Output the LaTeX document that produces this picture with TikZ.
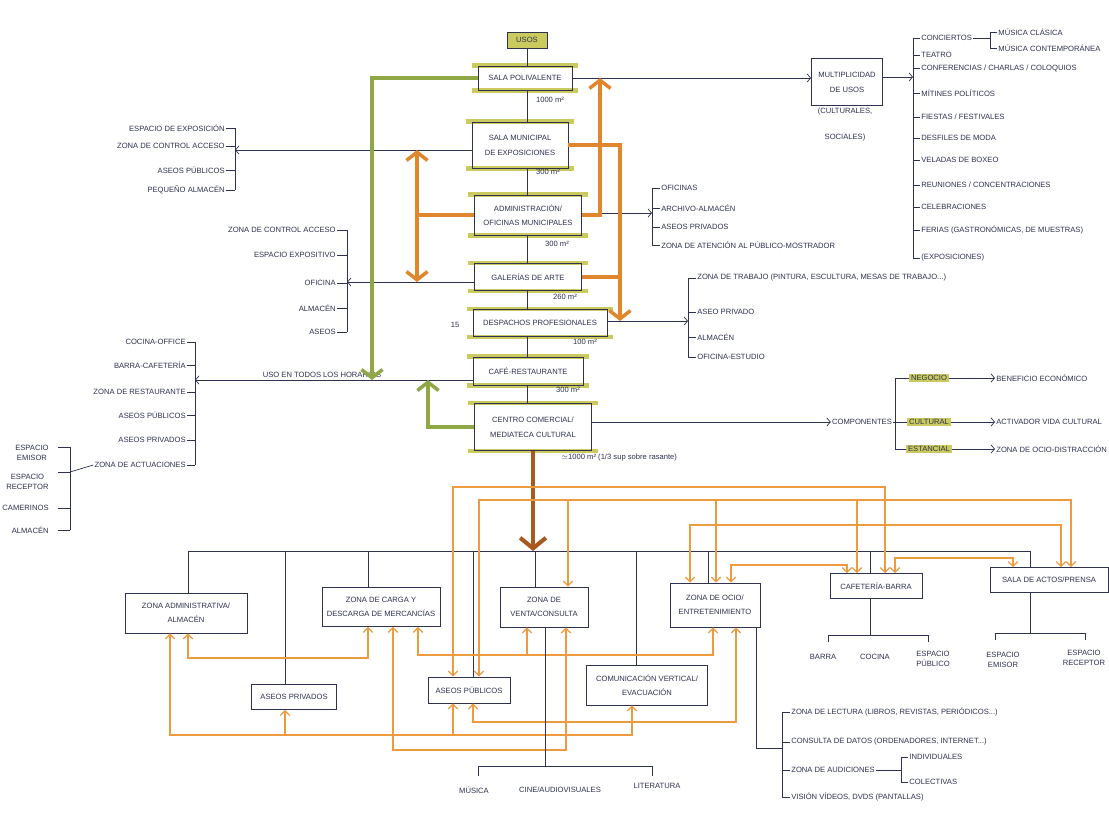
\documentclass[tikz,border=0pt]{standalone}
\usepackage{fontspec}
\setmainfont{Liberation Sans}
\usepackage{tikz}
\usetikzlibrary{arrows.meta,backgrounds,positioning}
\definecolor{ink}{HTML}{2E3150}
\definecolor{naranja}{HTML}{EE9A3E}
\definecolor{naranjaf}{HTML}{E0862C}
\definecolor{marron}{HTML}{A85A1E}
\definecolor{verde}{HTML}{8FA845}
\definecolor{resalte}{HTML}{CBCA5E}
\newcommand\hand{\fontsize{6.5}{8}\selectfont}
\tikzstyle{caja} = [rectangle, draw=ink, line width=0.7pt, text=ink, align=center, font=\hand, inner sep=1pt]
\tikzstyle{txt} = [font=\hand, inner sep=1pt, text=ink, align=center]
\tikzstyle{ln} = [draw=ink, line width=0.6pt]
\tikzstyle{flecha} = [ln, -{Straight Barb[length=3pt,width=7pt]}]
\tikzstyle{hilo} = [draw=naranja, line width=1pt, {Straight Barb[length=4pt,width=8pt]}-{Straight Barb[length=4pt,width=8pt]}]
\tikzstyle{hilo1} = [draw=naranja, line width=1pt, -{Straight Barb[length=4pt,width=8pt]}]
\tikzstyle{gruesa} = [draw=naranjaf, line width=3pt]
\tikzstyle{puntag} = [{Straight Barb[length=7pt,width=18pt]}-{Straight Barb[length=7pt,width=18pt]}]
\tikzstyle{punta} = [-{Straight Barb[length=7pt,width=18pt]}]
\tikzstyle{verdef} = [draw=verde, line width=3pt, -{Straight Barb[length=7pt,width=18pt]}]
\tikzstyle{bajada} = [draw=marron, line width=3.5pt, -{Straight Barb[length=9pt,width=22pt]}]
\tikzstyle{banda} = [draw=resalte, line width=4pt]
\tikzstyle{marca} = [fill=resalte, font=\hand, text=ink, inner sep=1.5pt]

\begin{document}
\begin{tikzpicture}[x=0.03cm, y=-0.03cm]
        \useasboundingbox (0,0) rectangle (1109,814);

        % columna de usos
        \node[caja, fill=resalte, minimum width=1.2cm, minimum height=0.48cm] (usos) at (527,40) {USOS};
        \node[caja, minimum width=2.82cm, minimum height=0.72cm] (sala) at (525,78) {SALA POLIVALENTE};
        \node[caja, minimum width=2.88cm, minimum height=1.38cm] (expo) at (520,145) {SALA MUNICIPAL\\[5pt]DE EXPOSICIONES};
        \node[caja, minimum width=3.21cm, minimum height=1.2cm] (admin) at (528,215) {ADMINISTRACIÓN/\\[4pt]OFICINAS MUNICIPALES};
        \node[caja, minimum width=3.21cm, minimum height=0.81cm] (gal) at (528,277) {GALERÍAS DE ARTE};
        \node[caja, minimum width=4.02cm, minimum height=0.81cm] (desp) at (540,323) {DESPACHOS PROFESIONALES};
        \node[caja, minimum width=3.3cm, minimum height=0.84cm] (cafe) at (528,371) {CAFÉ-RESTAURANTE};
        \node[caja, minimum width=3.51cm, minimum height=1.41cm] (centro) at (533,427) {CENTRO COMERCIAL/\\[5pt]MEDIATECA CULTURAL};
        \foreach \a/\b in {usos/sala, sala/expo, expo/admin, admin/gal, gal/desp, desp/cafe, cafe/centro}
            \draw[ln] (527,0 |- \a.south) -- (527,0 |- \b.north);

        \node[txt] (sup1) at (550,100) {1000 m²};
        \node[txt] (sup2) at (548,172) {300 m²};
        \node[txt] (sup3) at (557,244) {300 m²};
        \node[txt] (sup4) at (565,297) {260 m²};
        \node[txt] (sup5) at (585,342) {100 m²};
        \node[txt] (sup6) at (568,390) {300 m²};
        \node[txt, anchor=west] (sup7) at (560,458) {$\simeq$1000 m² (1/3 sup sobre rasante)};
        \node[txt] (quince) at (455,325) {15};

        % multiplicidad de usos
        \node[caja, minimum width=2.13cm, minimum height=1.41cm] (mult) at (847,82) {MULTIPLICIDAD\\[5pt]DE USOS};
        \node[txt] (cult) at (845,112) {(CULTURALES,};
        \node[txt] (soc) at (845,138) {SOCIALES)};
        \draw[flecha] (sala.east) -- (sala.east -| mult.west);
        \coordinate (brG) at (913,77);
        \draw[flecha] (mult.east |- brG) -- (brG);
        \foreach \y/\t [count=\i] in {38/CONCIERTOS, 55/TEATRO, 68/{CONFERENCIAS / CHARLAS / COLOQUIOS}, 93/MÍTINES POLÍTICOS,
                117/{FIESTAS / FESTIVALES}, 138/DESFILES DE MODA, 160/VELADAS DE BOXEO, 185/{REUNIONES / CONCENTRACIONES},
                207/CELEBRACIONES, 230/{FERIAS (GASTRONÓMICAS, DE MUESTRAS)}, 258/(EXPOSICIONES)}{
            \node[txt, anchor=west] (g\i) at (920,\y) {\t};
            \draw[ln] (913,\y) -- (g\i.west);
        }
        \draw[ln] (913,38) -- (913,258);
        \node[txt, anchor=west] (g1a) at (997,32) {MÚSICA CLÁSICA};
        \node[txt, anchor=west] (g1b) at (997,48) {MÚSICA CONTEMPORÁNEA};
        \draw[ln] (g1.east) -- (990,38);
        \draw[ln] (g1a.west) -| (990,48) -- (g1b.west);

        % exposiciones
        \coordinate (brA) at (235,150);
        \draw[flecha] (expo.west |- brA) -- (brA);
        \foreach \y/\t [count=\i] in {128/ESPACIO DE EXPOSICIÓN, 146/ZONA DE CONTROL ACCESO, 170/ASEOS PÚBLICOS, 190/PEQUEÑO ALMACÉN}{
            \node[txt, anchor=east] (a\i) at (226,\y) {\t};
            \draw[ln] (a\i.east) -- (235,\y);
        }
        \draw[ln] (235,128) -- (235,190);

        % galerias
        \coordinate (brB) at (347,282);
        \draw[flecha] (gal.west |- brB) -- (brB);
        \foreach \y/\t [count=\i] in {230/ZONA DE CONTROL ACCESO, 255/ESPACIO EXPOSITIVO, 283/OFICINA, 308/ALMACÉN, 332/ASEOS}{
            \node[txt, anchor=east] (b\i) at (337,\y) {\t};
            \draw[ln] (b\i.east) -- (347,\y);
        }
        \draw[ln] (347,230) -- (347,332);

        % cafe
        \coordinate (brC) at (195,380);
        \draw[flecha] (cafe.west |- brC) -- (brC);
        \node[txt, anchor=south] (horas) at (322,379) {USO EN TODOS LOS HORARIOS};
        \foreach \y/\t [count=\i] in {342/COCINA-OFFICE, 365/BARRA-CAFETERÍA, 392/ZONA DE RESTAURANTE, 415/ASEOS PÚBLICOS, 440/ASEOS PRIVADOS, 465/ZONA DE ACTUACIONES}{
            \node[txt, anchor=east] (c\i) at (187,\y) {\t};
            \draw[ln] (c\i.east) -- (195,\y);
        }
        \draw[ln] (195,342) -- (195,465);
        \coordinate (brD) at (70,472);
        \draw[ln] (c6.west) -- (brD);
        \foreach \y/\c/\t [count=\i] in {447/453/ESPACIO\\EMISOR, 472/482/ESPACIO\\RECEPTOR, 508/508/CAMERINOS, 530/530/ALMACÉN}{
            \node[txt, anchor=east] (d\i) at (50,\c) {\t};
            \draw[ln] (58,\y) -- (70,\y);
        }
        \draw[ln] (70,447) -- (70,530);

        % administracion
        \coordinate (brE) at (652,213);
        \draw[flecha] (admin.east |- brE) -- (brE);
        \foreach \y/\t [count=\i] in {188/OFICINAS, 208/ARCHIVO-ALMACÉN, 227/ASEOS PRIVADOS, 245/ZONA DE ATENCIÓN AL PÚBLICO-MOSTRADOR}{
            \node[txt, anchor=west] (e\i) at (660,\y) {\t};
            \draw[ln] (652,\y) -- (e\i.west);
        }
        \draw[ln] (652,188) -- (652,245);

        % despachos
        \coordinate (brF) at (688,321);
        \draw[flecha] (desp.east |- brF) -- (brF);
        \foreach \y/\t [count=\i] in {278/{ZONA DE TRABAJO (PINTURA, ESCULTURA, MESAS DE TRABAJO...)}, 312/ASEO PRIVADO, 337/ALMACÉN, 357/OFICINA-ESTUDIO}{
            \node[txt, anchor=west] (f\i) at (696,\y) {\t};
            \draw[ln] (688,\y) -- (f\i.west);
        }
        \draw[ln] (688,278) -- (688,357);

        % componentes
        \node[txt] (comp) at (862,422) {COMPONENTES};
        \draw[flecha] (centro.east |- comp) -- (comp.west);
        \draw[ln] (comp.east) -- (895,422);
        \draw[ln] (895,378) -- (895,449);
        \foreach \y/\k/\t [count=\i] in {378/NEGOCIO/BENEFICIO ECONÓMICO, 422/CULTURAL/ACTIVADOR VIDA CULTURAL, 449/ESTANCIAL/ZONA DE OCIO-DISTRACCIÓN}{
            \node[marca] (h\i) at (929,\y) {\k};
            \node[txt, anchor=west] (r\i) at (995,\y) {\t};
            \draw[ln] (895,\y) -- (h\i.west);
            \draw[flecha] (h\i.east) -- (r\i.west);
        }

        % flechas verdes y naranjas
        \draw[verdef] (sala.west) -| (372,0 |- brC);
        \draw[verdef] (centro.west) -| (428,0 |- brC);
        \draw[gruesa] (admin.west) -- (417,0 |- admin.west);
        \draw[gruesa, puntag] (417,0 |- brA) -- (417,0 |- brB);
        \draw[gruesa, punta] (admin.east) -| (600,0 |- sala.east);
        \draw[gruesa, punta] (expo.east) -| (620,0 |- brF);
        \draw[gruesa] (gal.east) -- (620,0 |- gal.east);

        % zonas del centro comercial
        \node[caja, minimum width=3.66cm, minimum height=1.2cm] (adm) at (186,613) {ZONA ADMINISTRATIVA/\\[4pt]ALMACÉN};
        \node[caja, minimum width=3.54cm, minimum height=1.17cm] (carga) at (381,607) {ZONA DE CARGA Y\\[4pt]DESCARGA DE MERCANCÍAS};
        \node[caja, minimum width=2.64cm, minimum height=1.2cm] (venta) at (544,607) {ZONA DE\\[4pt]VENTA/CONSULTA};
        \node[caja, minimum width=2.7cm, minimum height=1.32cm] (ocio) at (715,605) {ZONA DE OCIO/\\[4pt]ENTRETENIMIENTO};
        \node[caja, minimum width=2.76cm, minimum height=0.75cm] (cafbar) at (876,586) {CAFETERÍA-BARRA};
        \node[caja, minimum width=3.54cm, minimum height=0.75cm] (actos) at (1049,580) {SALA DE ACTOS/PRENSA};
        \node[caja, minimum width=2.55cm, minimum height=0.75cm] (apriv) at (294,697) {ASEOS PRIVADOS};
        \node[caja, minimum width=2.46cm, minimum height=0.78cm] (apub) at (469,690) {ASEOS PÚBLICOS};
        \node[caja, minimum width=3.63cm, minimum height=1.2cm] (comv) at (647,685) {COMUNICACIÓN VERTICAL/\\[4pt]EVACUACIÓN};

        \coordinate (busL) at (188,551);
        \coordinate (busR) at (1030,551);
        \draw[ln] (busL) -- (busR);
        \foreach \x/\n in {188/adm, 285/apriv, 368/carga, 473/apub, 535/venta, 636/comv, 708/ocio, 870/cafbar, 1030/actos}
            \draw[ln] (\x,0 |- busL) -- (\x,0 |- \n.north);
        \draw[bajada] (centro.south) -- (centro.south |- busL);

        % relaciones entre zonas
        \draw[hilo] (453,0 |- apub.north) -- (453,487) -- (885,487) -- (885,0 |- cafbar.north);
        \draw[hilo] (479,0 |- apub.north) -- (479,500) -- (1071,500) -- (1071,0 |- actos.north);
        \draw[hilo1] (568,500) -- (568,0 |- venta.north);
        \draw[hilo1] (716,500) -- (716,0 |- ocio.north);
        \draw[hilo1] (857,500) -- (857,0 |- cafbar.north);
        \draw[hilo] (690,0 |- ocio.north) -- (690,525) -- (1061,525) -- (1061,0 |- actos.north);
        \draw[hilo] (731,0 |- ocio.north) -- (731,565) -- (847,565) -- (847,0 |- cafbar.north);
        \draw[hilo] (895,0 |- cafbar.north) -- (895,558) -- (1013,558) -- (1013,0 |- actos.north);
        \draw[hilo] (188,0 |- adm.south) -- (188,658) -- (368,658) -- (368,0 |- carga.south);
        \draw[hilo] (418,0 |- carga.south) -- (418,655) -- (713,655) -- (713,0 |- ocio.south);
        \draw[hilo1] (527,655) -- (527,0 |- venta.south);
        \draw[hilo] (473,0 |- apub.south) -- (473,722) -- (736,722) -- (736,0 |- ocio.south);
        \draw[hilo] (170,0 |- adm.south) -- (170,735) -- (632,735) -- (632,0 |- comv.south);
        \draw[hilo1] (285,735) -- (285,0 |- apriv.south);
        \draw[hilo1] (453,735) -- (453,0 |- apub.south);
        \draw[hilo] (393,0 |- carga.south) -- (393,750) -- (566,750) -- (566,0 |- venta.south);

        % subdivisiones
        \draw[ln] (870,0 |- cafbar.south) -- (870,635);
        \draw[ln] (828,642) -- (828,635) -- (928,635) -- (928,642);
        \node[txt] (barra) at (823,657) {BARRA};
        \node[txt] (cocina) at (875,657) {COCINA};
        \node[txt] (epub) at (933,659) {ESPACIO\\PÚBLICO};
        \draw[ln] (1030,0 |- actos.south) -- (1030,633);
        \draw[ln] (995,640) -- (995,633) -- (1085,633) -- (1085,640);
        \node[txt] (eemi) at (1003,660) {ESPACIO\\EMISOR};
        \node[txt] (erec) at (1084,658) {ESPACIO\\RECEPTOR};

        \draw[ln] (545,0 |- venta.south) -- (545,766);
        \draw[ln] (478,776) -- (478,766) -- (652,766) -- (652,776);
        \node[txt] (musica) at (474,790) {MÚSICA};
        \node[txt] (cine) at (560,790) {CINE/AUDIOVISUALES};
        \node[txt] (lit) at (657,786) {LITERATURA};

        \draw[ln] (756,0 |- ocio.south) -- (756,748) -- (782,748);
        \foreach \y/\t [count=\i] in {712/{ZONA DE LECTURA (LIBROS, REVISTAS, PERIÓDICOS...)}, 742/{CONSULTA DE DATOS (ORDENADORES, INTERNET...)}, 770/ZONA DE AUDICIONES, 797/{VISIÓN VÍDEOS, DVDS (PANTALLAS)}}{
            \node[txt, anchor=west] (k\i) at (790,\y) {\t};
            \draw[ln] (782,\y) -- (k\i.west);
        }
        \draw[ln] (782,712) -- (782,797);
        \node[txt, anchor=west] (k3a) at (908,757) {INDIVIDUALES};
        \node[txt, anchor=west] (k3b) at (908,782) {COLECTIVAS};
        \draw[ln] (k3.east) -- (901,770);
        \draw[ln] (k3a.west) -| (901,782) -- (k3b.west);

        \begin{pgfonlayer}{background}
            \fill[white] (0,0) rectangle (1109,814);
            \foreach \n in {sala,expo,admin,gal,desp,cafe,centro}{
                \draw[banda] ([xshift=-5pt]\n.north west) -- ([xshift=5pt]\n.north east);
                \draw[banda] ([xshift=-5pt]\n.south west) -- ([xshift=5pt]\n.south east);
            }
        \end{pgfonlayer}
\end{tikzpicture}
\end{document}
